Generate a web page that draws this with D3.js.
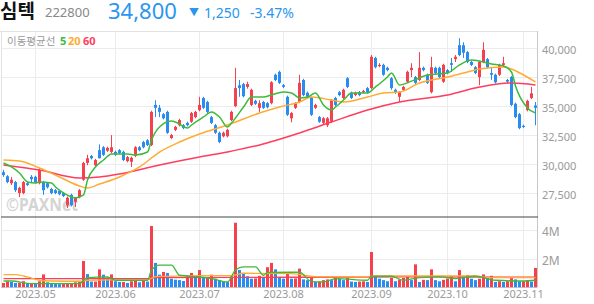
<!DOCTYPE html>
<html>
<head>
<meta charset="utf-8">
<script src="https://cdn.jsdelivr.net/npm/d3@7"></script>
<style>
  body { margin: 0; background: #fff; }
  svg { display: block; font-family: "Noto Sans", "Noto Sans CJK KR", sans-serif; }
</style>
</head>
<body>
<div id="chart"></div>
<script>
// daily candles, 2023-04-19 .. 2023-11-06
const opens = [29250,28900,28300,28400,27450,27450,28300,28850,28850,28300,28400,28300,27800,27700,27650,27450,26400,27300,26700,27100,
  28600,30050,30650,29850,31150,31400,31100,31000,31000,31150,31000,30200,30150,30650,31400,31850,32000,31600,35050,34800,
  34250,34450,32200,32900,33300,33300,33500,33600,34000,34600,35650,35300,34000,33300,32650,32350,32350,33750,34950,36750,
  36850,36600,35050,35400,34800,35300,35200,35200,37650,37900,36750,35750,33900,34800,35300,37200,36100,35650,34800,34000,
  33500,33300,33600,35650,36150,35650,37350,36100,35900,36150,36150,36500,36500,39100,38400,38500,38250,37350,36350,35750,
  36350,37050,38050,37450,37200,38250,37650,36150,38250,38250,37050,38050,38650,39000,40200,40200,39600,38750,38300,37450,
  38750,39000,37800,37650,37650,38500,37200,37450,35150,34250,33250,34600,35650,35000];
const highs = [29450,29000,28850,28500,28000,28500,28450,29000,28950,29600,28500,28400,27900,27800,27750,27550,27150,27400,27100,27800,
  30150,30750,30750,30400,31650,31500,31450,32450,31100,31250,31100,30650,30600,31500,31500,31950,32100,34550,35450,35050,
  34350,34550,32550,33250,33850,33400,33600,34450,34550,35750,35750,35400,34100,33400,32750,32750,33000,34550,38250,37200,
  36950,37050,36450,35500,35450,35400,35300,37100,37750,38000,36850,35850,34450,35300,37650,37300,36200,35750,35150,34100,
  34000,34000,35550,35750,36250,36450,37450,36200,36200,36250,36350,36600,39350,39200,38650,38600,38350,37450,36450,36250,
  36700,38000,38650,37550,39600,38350,37750,39200,38350,38350,38600,38150,39100,39350,40800,40450,39700,38850,38400,38850,
  40450,39100,38250,37750,38600,39200,37300,37550,35250,34350,33350,35500,36600,35300];
const lows = [28850,28300,28150,27550,27100,27350,28050,28400,28300,28200,27300,27850,27350,27350,27250,27100,26150,26300,26250,27000,
  28500,29850,30350,29750,30450,30650,31000,30900,30650,30800,30200,30100,29700,30550,31050,31300,31500,31500,34000,34000,
  33800,32550,32100,32800,33200,32950,33200,33500,33900,34500,34700,34350,33400,32550,31750,32250,32250,33650,34850,35750,
  35700,36450,34950,35050,34450,34700,34750,35100,37100,36850,36500,34100,33550,34700,35200,35800,35650,34100,34700,33500,
  33400,33150,33500,34950,35800,35550,36500,35550,35800,35800,36050,36050,36400,38200,38300,37550,37950,36350,36000,35300,
  36250,36950,37450,36850,37100,37950,36850,36050,37700,37350,36950,37700,37900,38750,39250,39100,38650,38400,37700,36750,
  38650,38200,37200,36900,37550,38400,36950,34950,33900,32950,33050,34500,35550,33300];
const closes = [29000,28400,28600,27700,27900,28400,28150,28650,28400,29450,27700,27950,27450,27450,27350,27200,27050,26400,27050,27700,
  30050,30450,30450,30300,30450,30750,31350,31400,30750,30900,30300,30550,30500,31400,31150,31400,31600,34450,34800,34450,
  33900,32650,32450,33150,33750,33050,33300,34350,34450,35050,34800,34450,33500,32650,31850,32650,32900,34450,36500,36500,
  35800,36850,36350,35150,35200,34800,34850,37000,37200,36950,36600,34200,34350,35200,36950,35900,35750,34200,35050,33600,
  33900,33900,35450,35050,35900,36350,36600,35650,36100,35900,36250,36150,39200,38300,38500,37650,38050,36500,36100,36150,
  36600,37900,38250,36950,38250,38050,36950,38300,37800,37450,38500,37800,38500,39200,39350,39550,38750,38500,37800,38750,
  39800,38300,37650,37000,38500,38650,37050,35050,34000,33050,33150,35400,36050,34800];
// volume, millions of shares
const volumes = [0.30,0.42,0.37,0.30,0.30,0.42,0.25,0.30,0.25,0.42,0.90,0.35,0.30,0.25,0.22,0.25,0.25,0.30,0.35,0.40,
  1.83,0.92,0.40,0.40,1.25,0.88,0.70,0.90,0.42,0.37,0.37,0.30,0.42,0.45,0.35,0.45,0.40,4.27,1.70,0.88,
  1.07,1.00,0.60,0.53,0.50,0.44,0.67,1.00,0.65,1.20,0.65,0.72,0.88,0.60,0.50,0.42,0.37,0.77,4.50,1.20,
  1.00,0.77,0.60,0.62,0.80,0.65,1.40,1.70,1.25,0.72,0.60,0.95,0.60,0.62,1.30,0.55,0.50,0.65,0.37,0.40,
  0.50,0.55,0.50,0.70,0.60,0.50,0.65,0.40,0.37,0.40,0.42,0.37,2.46,0.77,0.60,0.50,0.42,0.65,0.42,0.55,
  0.65,0.72,0.50,1.60,0.37,0.52,0.50,1.25,0.50,0.42,0.52,0.60,0.77,0.42,1.20,0.77,0.85,0.60,0.50,0.60,
  0.90,0.65,0.80,0.37,0.42,0.37,0.42,0.72,0.55,0.42,0.42,0.50,0.40,1.35];

// moving averages: [candle index, value]
const ma5 = [[0,30040],[2,29700],[4,29180],[6,28410],[8,28320],[9,28410],[12,28320],[13,27980],[15,27460],[17,27110],[18,27030],
  [20,27290],[21,28580],[23,29700],[25,30300],[27,30820],[31,30820],[33,30730],[36,30990],[37,32030],[39,33150],[42,33660],
  [43,33580],[46,33060],[47,33320],[50,34010],[52,34440],[54,34010],[56,33150],[57,33490],[60,34870],[62,35730],[65,35730],
  [67,35910],[70,36160],[72,36080],[74,35650],[76,35730],[78,36080],[80,35040],[82,34610],[83,34870],[85,35470],[87,36080],
  [91,36080],[93,36600],[96,37460],[97,37800],[99,36770],[102,37100],[106,37630],[111,37800],[114,38500],[117,38920],
  [122,38580],[125,38410],[127,37890],[128,36680],[131,34790],[133,34350]];
const ma20 = [[0,30300],[4,30220],[9,29610],[14,28840],[19,28060],[21,27890],[24,28230],[29,28840],[34,29700],[39,30990],
  [44,31850],[49,32540],[56,33320],[64,34350],[69,34870],[74,35300],[77,35730],[82,35470],[85,35300],[91,35730],[95,36080],
  [99,36160],[104,36940],[111,37460],[115,37800],[119,38150],[125,38320],[127,38150],[130,37630],[133,37030]];
const ma60 = [[0,29870],[9,29440],[19,28750],[24,28840],[29,29100],[39,29870],[49,30560],[56,31000],[64,31600],[74,32630],
  [82,33580],[91,34610],[99,35300],[111,35900],[119,36590],[127,36940],[133,36770]];
const volMa5 = [[0,0.44],[2,0.44],[7,0.26],[19,0.26],[21,0.68],[26,0.72],[28,0.49],[36,0.49],[37,1.2],[39,1.55],[42,1.55],
  [44,0.84],[49,0.72],[52,0.61],[56,0.37],[58,1.2],[60,1.42],[63,1.42],[65,0.84],[66,1.03],[74,1.05],[77,0.4],[80,0.37],
  [83,0.61],[91,0.49],[92,0.77],[97,0.77],[100,0.49],[104,0.68],[109,0.72],[113,0.61],[118,0.77],[123,0.49],[130,0.44],[133,0.49]];
const volMa20 = [[0,0.88],[3,0.88],[6,0.72],[9,0.49],[12,0.44],[19,0.42],[21,0.49],[27,0.52],[36,0.52],[38,0.75],[45,0.8],
  [57,0.82],[60,0.98],[72,0.95],[78,0.75],[90,0.72],[93,0.8],[118,0.8],[121,0.68],[133,0.68]];
const volMa60 = [[0,0.6],[36,0.6],[38,0.68],[74,0.7],[100,0.72],[133,0.7]];

const priceTicks = [27500, 30000, 32500, 35000, 37500, 40000];
const volTicks = [2, 4];
const monthTicks = [[8, "2023.05"], [28, "2023.06"], [49, "2023.07"], [70, "2023.08"], [92, "2023.09"], [111, "2023.10"], [130, "2023.11"]];

const W = 594, H = 304;
const plotL = 1, plotR = 537;
const priceTop = 31, priceBot = 216.5, volBot = 287.5;
const RED = "#f5404e", BLUE = "#2a8cf0";
const C5 = "#3cba3c", C20 = "#ffab33", C60 = "#ff3d5e";

const svg = d3.select("#chart").append("svg")
  .attr("width", W)
  .attr("height", H);

const x = d3.scaleBand()
  .domain(d3.range(opens.length))
  .range([1.5, 537.5])
  .paddingInner(0.25)
  .paddingOuter(0.125);
const xc = i => x(i) + x.bandwidth() / 2;

const y = d3.scaleLinear().domain([27500, 40000]).range([192.5, 47.5]);
const yv = d3.scaleLinear().domain([0, 4]).range([287.3, 229.9]);

// clip regions
const defs = svg.append("defs");
defs.append("clipPath").attr("id", "clipP").append("rect")
  .attr("x", plotL).attr("y", priceTop).attr("width", plotR - plotL).attr("height", priceBot - priceTop);
defs.append("clipPath").attr("id", "clipV").append("rect")
  .attr("x", plotL).attr("y", priceBot + 1).attr("width", plotR - plotL).attr("height", volBot - priceBot - 1);

// grid
const grid = svg.append("g").attr("stroke", "#ececec").attr("stroke-width", 1);
grid.selectAll("line.v").data(monthTicks).join("line")
  .attr("x1", d => Math.round(xc(d[0])) - 0.5).attr("x2", d => Math.round(xc(d[0])) - 0.5)
  .attr("y1", priceTop).attr("y2", volBot);
grid.selectAll("line.p").data(priceTicks).join("line")
  .attr("x1", plotL).attr("x2", plotR)
  .attr("y1", d => Math.round(y(d)) + 0.5).attr("y2", d => Math.round(y(d)) + 0.5);
grid.selectAll("line.vol").data(volTicks).join("line")
  .attr("x1", plotL).attr("x2", plotR)
  .attr("y1", d => Math.round(yv(d)) + 0.5).attr("y2", d => Math.round(yv(d)) + 0.5);

// frame
svg.append("line").attr("x1", 0).attr("x2", plotR).attr("y1", priceTop + 0.5).attr("y2", priceTop + 0.5).attr("stroke", "#e2e2e2");
svg.append("line").attr("x1", plotL + 0.5).attr("x2", plotL + 0.5).attr("y1", priceTop).attr("y2", volBot).attr("stroke", "#e2e2e2");
svg.append("line").attr("x1", plotR + 0.5).attr("x2", plotR + 0.5).attr("y1", priceTop).attr("y2", volBot).attr("stroke", "#c8c8c8");
svg.append("line").attr("x1", plotL).attr("x2", plotR).attr("y1", volBot).attr("y2", volBot).attr("stroke", "#c8c8c8");
svg.append("line").attr("x1", plotL).attr("x2", plotR + 1).attr("y1", priceBot + 0.5).attr("y2", priceBot + 0.5).attr("stroke", "#444");

// watermark
svg.append("text")
  .attr("x", 6).attr("y", 211)
  .attr("font-size", 17).attr("font-weight", "bold")
  .attr("fill", "#d4d4d4")
  .attr("textLength", 72).attr("lengthAdjust", "spacingAndGlyphs")
  .text("©PAXNet");

// candles
const pg = svg.append("g").attr("clip-path", "url(#clipP)");
const idx = d3.range(opens.length);
const col = i => closes[i] >= opens[i] ? RED : BLUE;
pg.selectAll("line.wick").data(idx).join("line")
  .attr("x1", xc).attr("x2", xc)
  .attr("y1", i => y(highs[i])).attr("y2", i => y(lows[i]))
  .attr("stroke", col).attr("stroke-width", 1);
pg.selectAll("rect.body").data(idx).join("rect")
  .attr("x", i => x(i)).attr("width", x.bandwidth())
  .attr("y", i => y(Math.max(opens[i], closes[i])))
  .attr("height", i => Math.max(1, Math.abs(y(opens[i]) - y(closes[i]))))
  .attr("fill", col);

const line = d3.line().x(d => xc(d[0])).curve(d3.curveMonotoneX);
[[ma60, C60], [ma20, C20], [ma5, C5]].forEach(([pts, c]) => {
  pg.append("path").datum(pts)
    .attr("d", line.y(d => y(d[1])))
    .attr("fill", "none").attr("stroke", c).attr("stroke-width", 1.5);
});

// volume
const vg = svg.append("g").attr("clip-path", "url(#clipV)");
vg.selectAll("rect").data(idx).join("rect")
  .attr("x", i => x(i)).attr("width", x.bandwidth())
  .attr("y", i => yv(volumes[i]))
  .attr("height", i => yv(0) - yv(volumes[i]))
  .attr("fill", i => (i === 0 || volumes[i] >= volumes[i - 1]) ? RED : BLUE);
[[volMa60, C60], [volMa20, C20], [volMa5, C5]].forEach(([pts, c]) => {
  vg.append("path").datum(pts)
    .attr("d", line.y(d => yv(d[1])))
    .attr("fill", "none").attr("stroke", c).attr("stroke-width", 1.3);
});

// right axis labels
const axisText = svg.append("g").attr("fill", "#9a9a9a").attr("font-size", 11);
axisText.selectAll("text.p").data(priceTicks).join("text")
  .attr("x", 542).attr("y", d => y(d) + 6)
  .text(d3.format(","));
axisText.selectAll("text.v").data(volTicks).join("text")
  .attr("x", 542).attr("y", d => yv(d) + 6)
  .attr("font-size", 12)
  .text(d => d + "M");
axisText.selectAll("text.m").data(monthTicks).join("text")
  .attr("x", d => xc(d[0])).attr("y", 298)
  .attr("text-anchor", "middle")
  .text(d => d[1]);

// legend
const lg = svg.append("text").attr("x", 7).attr("y", 44.5).attr("font-size", 10.5);
lg.append("tspan").attr("fill", "#999").text("이동평균선");
lg.append("tspan").attr("x", 60).attr("fill", C5).attr("font-weight", "bold").attr("font-size", 11).text("5");
lg.append("tspan").attr("x", 68).attr("fill", C20).attr("font-weight", "bold").attr("font-size", 11).text("20");
lg.append("tspan").attr("x", 83).attr("fill", C60).attr("font-weight", "bold").attr("font-size", 11).text("60");

// header
const hdr = svg.append("g");
hdr.append("text").attr("x", 0).attr("y", 18).attr("font-size", 19).attr("font-weight", "bold").attr("fill", "#111").text("심텍");
hdr.append("text").attr("x", 45).attr("y", 17).attr("font-size", 13).attr("fill", "#888").text("222800");
hdr.append("text").attr("x", 108).attr("y", 18.5).attr("font-size", 22).attr("fill", "#2a96f0").text("34,800");
hdr.append("text").attr("x", 189).attr("y", 15.5).attr("font-size", 10).attr("fill", "#2a96f0").text("▼");
hdr.append("text").attr("x", 204).attr("y", 17.5).attr("font-size", 14).attr("fill", "#2a96f0").text("1,250");
hdr.append("text").attr("x", 250).attr("y", 17.5).attr("font-size", 14).attr("fill", "#2a96f0").text("-3.47%");
</script>
</body>
</html>
